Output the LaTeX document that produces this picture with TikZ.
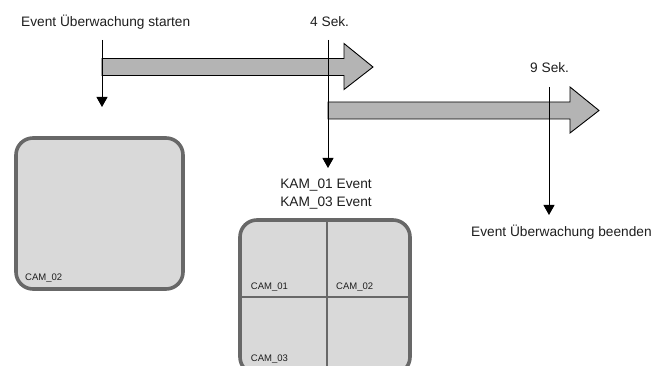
\documentclass[tikz,border=0pt]{standalone}
\usepackage{fontspec}
\setmainfont{Liberation Sans}
\usetikzlibrary{arrows.meta}
\definecolor{screenfill}{HTML}{D9D9D9}
\definecolor{screenline}{HTML}{686868}
\definecolor{arrowfill}{HTML}{B4B4B4}
\definecolor{txt}{HTML}{1E1E1E}
\begin{document}
\begin{tikzpicture}[x=1pt,y=-1pt,
  lbl/.style={inner sep=0pt,text=txt,font=\fontsize{13.7}{18.4}\selectfont},
  camlbl/.style={inner sep=0pt,anchor=base west,text=txt,font=\fontsize{9.5}{11}\selectfont},
  bigarrow/.style={draw=black,line width=0.9pt,fill=arrowfill,line join=miter},
  marker/.style={draw=black,line width=1pt,-{Triangle[width=11pt,length=10pt]}},
  screen/.style={draw=screenline,line width=3.6pt,fill=screenfill,rounded corners=17pt},
  divider/.style={draw=screenline,line width=2pt}]
\useasboundingbox (0,0) rectangle (653,366);
% timeline arrows
\draw[bigarrow] (102,58.5) -- (344,58.5) -- (344,43.5) -- (373,67) -- (344,89.5) -- (344,75.5) -- (102,75.5) -- cycle;
\draw[bigarrow] (328,102) -- (570,102) -- (570,87) -- (599,110.5) -- (570,133) -- (570,119) -- (328,119) -- cycle;
% texts
\node[lbl,anchor=base west] (start) at (21,26.7) {Event Überwachung starten};
\node[lbl,anchor=base west] (four) at (310,26.7) {4 Sek.};
\node[lbl,anchor=base west] (nine) at (530,72.7) {9 Sek.};
\node[lbl,anchor=base west] (stop) at (471,236.7) {Event Überwachung beenden};
\node[lbl,anchor=base,align=center] (kam) at (326,206.7) {KAM\_01 Event\\KAM\_03 Event};
% marker lines
\coordinate (t1) at (102,40);
\coordinate (b1) at (102,107);
\coordinate (t2) at (328,40);
\coordinate (b2) at (328,168);
\coordinate (t3) at (549,87);
\coordinate (b3) at (549,215);
\draw[marker] (t1) -- (b1);
\draw[marker] (t2) -- (b2);
\draw[marker] (t3) -- (b3);
% screen 1
\draw[screen] (16,138) rectangle (183,289);
\node[camlbl] (s1c2) at (25,280.7) {CAM\_02};
% screen 2
\draw[screen] (240,220) rectangle (410,374);
\coordinate (vt) at (327,221);
\coordinate (vb) at (327,374);
\coordinate (hl) at (241,297);
\coordinate (hr) at (409,297);
\draw[divider] (vt) -- (vb);
\draw[divider] (hl) -- (hr);
\node[camlbl] (s2c1) at (250.7,289) {CAM\_01};
\node[camlbl] (s2c2) at (336,289) {CAM\_02};
\node[camlbl] (s2c3) at (250.7,361.7) {CAM\_03};
\end{tikzpicture}
\end{document}
